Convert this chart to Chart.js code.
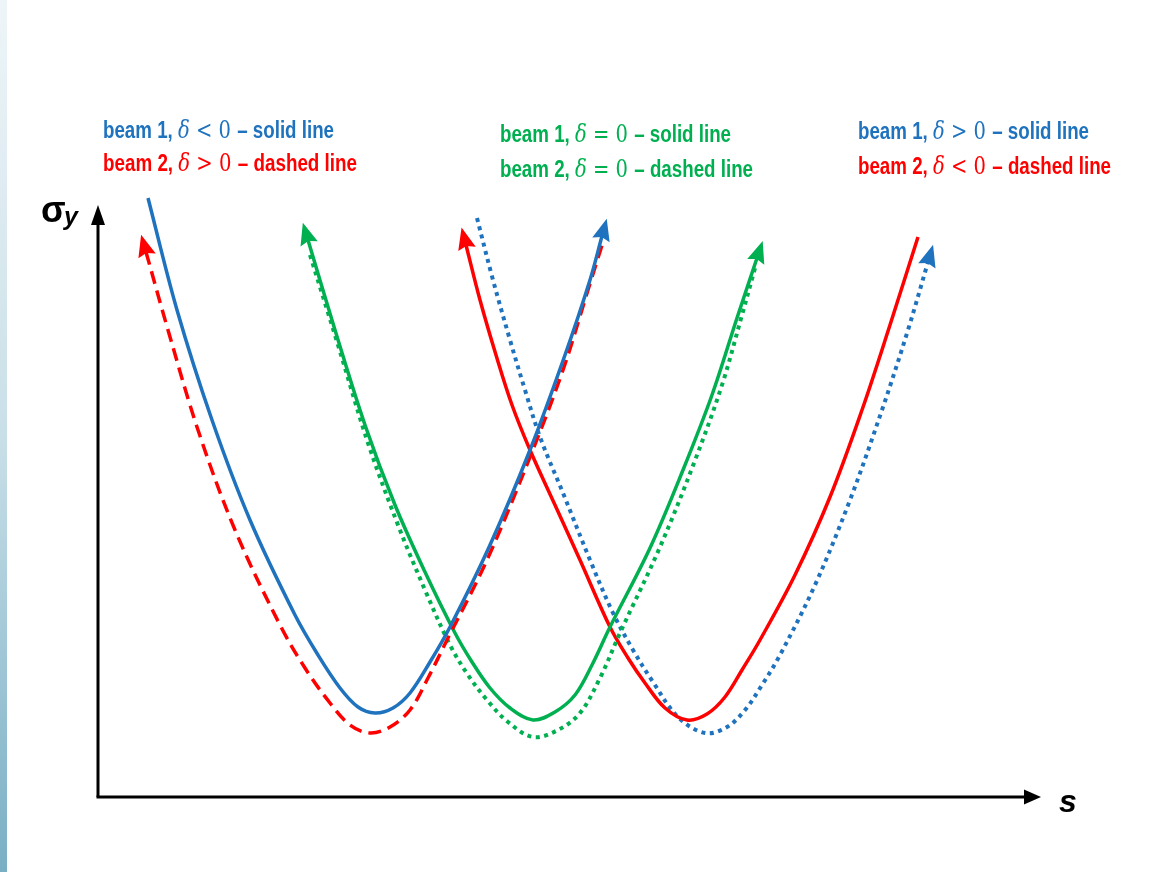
<!DOCTYPE html>
<html>
<head>
<meta charset="utf-8">
<script src="https://cdn.jsdelivr.net/npm/chart.js@4/dist/chart.umd.min.js"></script>
<style>
  html, body { margin: 0; padding: 0; background: #ffffff; }
  #wrap { width: 1150px; height: 872px; }
</style>
</head>
<body>
<div id="wrap"><canvas id="c" width="1150" height="872"></canvas></div>
<script>
// Schematic values: s (horizontal position) and sigma_y (beam size), in arbitrary units
// (origin at the axes' corner).
const beam1NegS     = [50, 79, 114, 152, 197, 220, 242, 260, 277, 295, 312, 332, 352, 392, 432, 467, 492, 504];
const beam1NegSig   = [599, 487, 377, 277, 182, 142, 109, 90, 84, 89, 104, 135, 170, 252, 347, 442, 517, 561];

const beam2PosS     = [48, 70, 100, 137, 182, 207, 232, 252, 272, 292, 312, 330, 349, 389, 432, 465, 490, 505];
const beam2PosSig   = [545, 467, 367, 267, 172, 129, 94, 72, 64, 70, 87, 119, 157, 237, 340, 427, 507, 555];

const beam1ZeroS    = [210, 237, 267, 297, 327, 357, 374, 392, 412, 435, 457, 477, 494, 512, 552, 585, 614, 639, 659];
const beam1ZeroSig  = [557, 467, 372, 292, 225, 164, 135, 109, 89, 77, 85, 102, 132, 170, 249, 327, 402, 479, 539];

const beam2ZeroS    = [212, 240, 270, 300, 327, 352, 370, 389, 410, 435, 460, 482, 502, 522, 562, 596, 624, 644, 657];
const beam2ZeroSig  = [542, 452, 354, 272, 207, 152, 122, 97, 75, 60, 67, 84, 119, 164, 250, 334, 412, 482, 529];

const beam2NegS     = [368, 382, 398, 414, 432, 457, 482, 512, 530, 547, 567, 589, 609, 627, 644, 662, 697, 732, 764, 792, 820];
const beam2NegSig   = [552, 497, 442, 392, 347, 292, 237, 170, 139, 114, 89, 77, 83, 100, 127, 157, 222, 300, 387, 472, 560];

const beam1PosS     = [379, 395, 412, 427, 442, 465, 492, 515, 535, 555, 580, 607, 629, 647, 664, 682, 717, 752, 784, 810, 830];
const beam1PosSig   = [579, 517, 457, 407, 360, 304, 237, 184, 147, 115, 80, 64, 70, 87, 112, 142, 212, 297, 387, 467, 535];

const labelLines = [
  { pos: "left",   line: 0, color: "#1f72bd", parts: ["beam 1, ", "\u03B4", " < 0 ", "\u2013 solid line"] },
  { pos: "left",   line: 1, color: "#ff0000", parts: ["beam 2, ", "\u03B4", " > 0 ", "\u2013 dashed line"] },
  { pos: "middle", line: 0, color: "#00b050", parts: ["beam 1, ", "\u03B4", " = 0 ", "\u2013 solid line"] },
  { pos: "middle", line: 1, color: "#00b050", parts: ["beam 2, ", "\u03B4", " = 0 ", "\u2013 dashed line"] },
  { pos: "right",  line: 0, color: "#1f72bd", parts: ["beam 1, ", "\u03B4", " > 0 ", "\u2013 solid line"] },
  { pos: "right",  line: 1, color: "#ff0000", parts: ["beam 2, ", "\u03B4", " < 0 ", "\u2013 dashed line"] }
];
const yAxisLabel = ["\u03C3", "y"];
const xAxisLabel = "s";

const BLUE = "#1f72bd", RED = "#ff0000", GREEN = "#00b050";

function pts(xs, ys) { return xs.map((x, i) => ({ x: x, y: ys[i] })); }

const datasets = [
  { label: "beam 1, δ<0", data: pts(beam1NegS, beam1NegSig), borderColor: BLUE, borderWidth: 3.5, arrowStart: false, arrowEnd: true },
  { label: "beam 2, δ>0", data: pts(beam2PosS, beam2PosSig), borderColor: RED, borderWidth: 3.5, borderDash: [13, 7], arrowStart: true, arrowEnd: false },
  { label: "beam 1, δ=0", data: pts(beam1ZeroS, beam1ZeroSig), borderColor: GREEN, borderWidth: 3.5, arrowStart: true, arrowEnd: true },
  { label: "beam 2, δ=0", data: pts(beam2ZeroS, beam2ZeroSig), borderColor: GREEN, borderWidth: 4, borderDash: [4, 4.5], arrowStart: false, arrowEnd: false },
  { label: "beam 2, δ<0", data: pts(beam2NegS, beam2NegSig), borderColor: RED, borderWidth: 3.5, arrowStart: true, arrowEnd: false },
  { label: "beam 1, δ>0", data: pts(beam1PosS, beam1PosSig), borderColor: BLUE, borderWidth: 4, borderDash: [4, 4.5], arrowStart: false, arrowEnd: true }
];
datasets.forEach(d => { d.showLine = true; d.pointRadius = 0; d.tension = 0.35; d.fill = false; d.borderCapStyle = "butt"; });

const SANS = "'Liberation Sans Narrow', 'Liberation Sans', sans-serif";
const SERIF = "'DejaVu Serif', 'Liberation Serif', serif";

const decor = {
  id: "decor",
  beforeDraw(chart) {
    const ctx = chart.ctx;
    ctx.save();
    ctx.fillStyle = "#ffffff";
    ctx.fillRect(0, 0, chart.width, chart.height);
    const g = ctx.createLinearGradient(0, 0, 0, chart.height);
    g.addColorStop(0, "#eef5f8");
    g.addColorStop(0.5, "#c9dfe8");
    g.addColorStop(1, "#79afc4");
    ctx.fillStyle = g;
    ctx.fillRect(0, 0, 7, chart.height);
    ctx.restore();
  },
  afterDatasetsDraw(chart) {
    const ctx = chart.ctx;
    const xs = chart.scales.x, ys = chart.scales.y;
    const ox = xs.getPixelForValue(0), oy = ys.getPixelForValue(0);
    ctx.save();
    // axes
    ctx.strokeStyle = "#000"; ctx.fillStyle = "#000"; ctx.lineWidth = 3;
    const yTop = ys.getPixelForValue(573), xEnd = xs.getPixelForValue(927);
    ctx.beginPath(); ctx.moveTo(ox, oy); ctx.lineTo(ox, yTop); ctx.stroke();
    ctx.beginPath(); ctx.moveTo(ox - 1.5, oy); ctx.lineTo(xEnd, oy); ctx.stroke();
    ctx.beginPath(); ctx.moveTo(ox, yTop - 19); ctx.lineTo(ox - 7, yTop + 1); ctx.lineTo(ox + 7, yTop + 1); ctx.closePath(); ctx.fill();
    ctx.beginPath(); ctx.moveTo(xEnd + 16, oy); ctx.lineTo(xEnd - 1, oy - 7.5); ctx.lineTo(xEnd - 1, oy + 7.5); ctx.closePath(); ctx.fill();
    // arrowheads on curves
    chart.data.datasets.forEach((ds, i) => {
      const meta = chart.getDatasetMeta(i);
      const p = meta.data;
      const head = (a, b) => {
        const dx = b.x - a.x, dy = b.y - a.y, L = Math.hypot(dx, dy);
        const ux = dx / L, uy = dy / L;
        const len = 22, hw = 9;
        const tx = b.x + ux * 18, ty = b.y + uy * 18;
        const bx = tx - ux * len, by = ty - uy * len;
        ctx.fillStyle = ds.borderColor;
        ctx.beginPath();
        ctx.moveTo(tx, ty);
        ctx.lineTo(bx - uy * hw, by + ux * hw);
        ctx.lineTo(bx + ux * 3, by + uy * 3);
        ctx.lineTo(bx + uy * hw, by - ux * hw);
        ctx.closePath(); ctx.fill();
      };
      if (ds.arrowEnd) head(p[p.length - 2], p[p.length - 1]);
      if (ds.arrowStart) head(p[1], p[0]);
    });
    // labels
    const anchors = { left: [103, 138, 171, 231, 254], middle: [500, 142, 177, 231, 253], right: [858, 139, 174, 231, 253] };
    labelLines.forEach(l => {
      const a = anchors[l.pos];
      const baseY = l.line === 0 ? a[1] : a[2];
      const target = l.line === 0 ? a[3] : a[4];
      const fonts = ["bold 23px " + SANS, "italic 24px " + SERIF, "24px " + SERIF, "bold 23px " + SANS];
      let w = 0;
      const ws = l.parts.map((t, k) => { ctx.font = fonts[k]; const m = ctx.measureText(t).width; w += m; return m; });
      const sc = target / w;
      ctx.save();
      ctx.translate(a[0], baseY);
      ctx.scale(sc, 1);
      ctx.fillStyle = l.color; ctx.textBaseline = "alphabetic"; ctx.textAlign = "left";
      let x = 0;
      l.parts.forEach((t, k) => { ctx.font = fonts[k]; ctx.fillText(t, x, 0); x += ws[k]; });
      ctx.restore();
    });
    // axis titles
    ctx.fillStyle = "#000"; ctx.textBaseline = "alphabetic";
    ctx.font = "bold 36px 'Liberation Sans', sans-serif";
    ctx.fillText(yAxisLabel[0], 41, 222);
    ctx.font = "bold italic 25px 'Liberation Sans', sans-serif";
    ctx.fillText(yAxisLabel[1], 64, 225);
    ctx.font = "bold italic 32px 'Liberation Sans Narrow', 'Liberation Sans', sans-serif";
    ctx.fillText(xAxisLabel, 1059, 812);
    ctx.restore();
  }
};

new Chart(document.getElementById("c"), {
  type: "scatter",
  data: { datasets: datasets },
  options: {
    responsive: false,
    animation: false,
    layout: { padding: 0 },
    plugins: { legend: { display: false }, tooltip: { enabled: false } },
    scales: {
      x: { type: "linear", display: false, min: -98, max: 1052 },
      y: { type: "linear", display: false, min: -75, max: 797 }
    }
  },
  plugins: [decor]
});
</script>
</body>
</html>
